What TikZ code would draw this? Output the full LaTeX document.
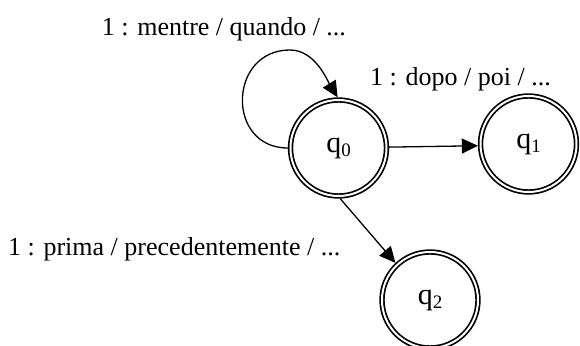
\documentclass[tikz,border=0pt]{standalone}
\usepackage{fontspec}
\setmainfont{Liberation Serif}
\usetikzlibrary{arrows.meta}
\newcommand{\qlab}[1]{{\fontsize{30}{32}\selectfont q\raisebox{-4pt}{\fontsize{19}{20}\selectfont #1}}}
\begin{document}
\begin{tikzpicture}[x=1pt,y=1pt,
  state/.style={circle, draw, double, double distance=2pt, line width=1.7pt,
    minimum size=96pt, inner sep=0pt, outer sep=2.7pt},
  edge/.style={line width=1.3pt, -{Triangle[length=16pt,width=15pt]}},
  lbl/.style={font=\fontsize{26}{28}\selectfont, inner sep=0pt, anchor=base west}]
\useasboundingbox (0,0) rectangle (580,345);
\node[state] (q0) at (338.5,197) {\qlab{0}};
\node[state] (q1) at (528.5,201) {\qlab{1}};
\node[state] (q2) at (430,45) {\qlab{2}};
\node[lbl] (l0) at (101.7,309) {1 : mentre / quando / ...};
\node[lbl] (l1) at (370,259) {1 : dopo / poi / ...};
\node[lbl] (l2) at (8,89) {1 : prima / precedentemente / ...};
\coordinate (looptop) at (290,295);
\draw[edge] (q0.180) .. controls +(-62,0) and +(-62,0) .. (looptop)
  .. controls +(25,0) and +(-10.4,17) .. (q0.91);
\draw[edge] (q0.1) -- (q1.182);
\draw[edge] (q0.-88) -- (q2.133);
\end{tikzpicture}
\end{document}
